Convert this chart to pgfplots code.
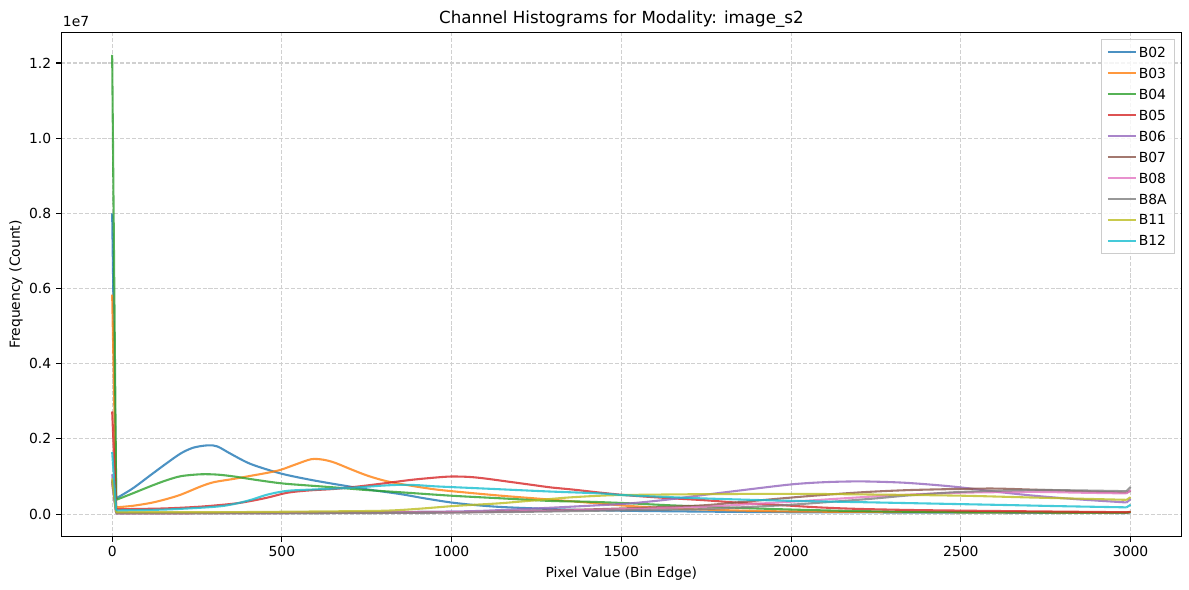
\documentclass[border=0pt]{standalone}
\usepackage{fontspec}
\setmainfont{DejaVu Sans}
\usepackage{pgfplots}
\pgfplotsset{compat=1.18}
\definecolor{cA}{HTML}{1F77B4}
\definecolor{cB}{HTML}{FF7F0E}
\definecolor{cC}{HTML}{2CA02C}
\definecolor{cD}{HTML}{D62728}
\definecolor{cE}{HTML}{9467BD}
\definecolor{cF}{HTML}{8C564B}
\definecolor{cG}{HTML}{E377C2}
\definecolor{cH}{HTML}{7F7F7F}
\definecolor{cI}{HTML}{BCBD22}
\definecolor{cJ}{HTML}{17BECF}
\definecolor{gridc}{HTML}{D0D0D0}
\pgfplotsset{
  ser/.style={color=#1, line width=1.5pt, draw opacity=0.8, line join=round},
}
\begin{document}
\begin{tikzpicture}
\path[use as bounding box] (0,0) rectangle (856.08pt,424.8pt);
\begin{axis}[
  at={(44.1pt,38.4pt)}, anchor=south west,
  scale only axis, width=806.6pt, height=363.2pt,
  xmin=-150, xmax=3150, ymin=-0.6, ymax=12.82,
  font=\fontsize{10}{12}\selectfont,
  /pgf/number format/assume math mode=true,
  axis line style={line width=0.8pt},
  tick align=outside,
  xtick pos=bottom, ytick pos=left,
  major tick length=3.5pt,
  major tick style={black, line width=0.8pt},
  xtick={0,500,1000,1500,2000,2500,3000},
  xticklabels={0,500,1000,1500,2000,2500,3000},
  ytick={0,2,4,6,8,10,12},
  yticklabels={0.0,0.2,0.4,0.6,0.8,1.0,1.2},
  xticklabel style={inner sep=0pt, anchor=north, yshift=-3.5pt},
  yticklabel style={inner sep=0pt, anchor=east, xshift=-3.5pt},
  grid=major,
  major grid style={gridc, line width=0.8pt, dash pattern=on 2.96pt off 1.28pt},
  xlabel={Pixel Value (Bin Edge)},
  xlabel style={at={(axis description cs:0.5,-0.0818)}, anchor=base},
  ylabel={Frequency (Count)},
  ylabel style={at={(axis description cs:-0.0404,0.5)}, anchor=center},
  legend cell align=left,
  legend image code/.code={\draw[#1] (0pt,0pt) -- (20pt,0pt);},
  legend style={at={(1,1)}, anchor=north east, xshift=-5pt, yshift=-5pt,
    draw=black!20, fill=white, fill opacity=0.8, text opacity=1,
    inner sep=4pt, row sep=4.8pt,
    nodes={inner sep=1.5pt, text height=7.3pt, text depth=0pt},
    font=\fontsize{10}{12}\selectfont},
  after end axis/.code={
    \draw[line width=0.8pt, black] (rel axis cs:0,0) rectangle (rel axis cs:1,1);
    \node[anchor=base west, inner sep=0pt, font=\fontsize{10}{12}\selectfont] at ([yshift=3.8pt,xshift=1pt]rel axis cs:0,1) {1e7};
    \node[anchor=base, inner sep=0pt, font=\fontsize{12}{14}\selectfont] at ([yshift=6pt]rel axis cs:0.5,1) {Channel Histograms for Modality: image\_s2};
  },
]
% B02
\addplot[ser=cA, forget plot] coordinates {(0,8.0)(12,0.42)};
\addplot[ser=cA, smooth] coordinates {(12,0.42)(60,0.68)(115,1.05)(160,1.35)(203,1.62)(240,1.77)(282,1.83)(310,1.80)(350,1.60)(409,1.33)(497,1.08)(580,0.92)(655,0.80)(750,0.66)(851,0.53)(920,0.42)(998,0.31)(1070,0.24)(1145,0.19)(1250,0.15)(1341,0.12)(1500,0.09)(1700,0.07)(2000,0.05)(2500,0.04)(2988,0.03)};
\addlegendentry{B02}
\addplot[ser=cA, forget plot] coordinates {(2988,0.03)(3000,0.05)};
% B03
\addplot[ser=cB, forget plot] coordinates {(0,5.84)(12,0.18)};
\addplot[ser=cB, smooth] coordinates {(12,0.18)(60,0.22)(115,0.30)(160,0.40)(203,0.52)(262,0.74)(300,0.85)(360,0.94)(409,1.02)(458,1.10)(497,1.18)(540,1.32)(586,1.46)(620,1.45)(655,1.37)(704,1.19)(753,1.02)(802,0.89)(851,0.80)(949,0.66)(1047,0.57)(1145,0.49)(1243,0.42)(1341,0.35)(1439,0.28)(1518,0.22)(1630,0.16)(1743,0.12)(2000,0.07)(2500,0.05)(2988,0.04)};
\addlegendentry{B03}
\addplot[ser=cB, forget plot] coordinates {(2988,0.04)(3000,0.06)};
% B04
\addplot[ser=cC, forget plot] coordinates {(0,12.22)(12,0.38)};
\addplot[ser=cC, smooth] coordinates {(12,0.38)(60,0.55)(115,0.75)(160,0.90)(203,1.01)(262,1.06)(311,1.05)(360,1.00)(409,0.93)(497,0.82)(580,0.76)(655,0.71)(750,0.64)(851,0.58)(998,0.49)(1145,0.42)(1292,0.35)(1400,0.33)(1518,0.29)(1630,0.24)(1743,0.20)(1968,0.13)(2200,0.08)(2500,0.05)(2988,0.04)};
\addlegendentry{B04}
\addplot[ser=cC, forget plot] coordinates {(2988,0.04)(3000,0.05)};
% B05
\addplot[ser=cD, forget plot] coordinates {(0,2.73)(12,0.13)};
\addplot[ser=cD, smooth] coordinates {(12,0.13)(150,0.15)(262,0.20)(360,0.28)(409,0.35)(458,0.44)(517,0.57)(580,0.63)(655,0.67)(730,0.74)(802,0.82)(880,0.91)(949,0.97)(998,1.00)(1050,0.99)(1096,0.95)(1170,0.86)(1243,0.77)(1292,0.71)(1360,0.65)(1439,0.57)(1518,0.50)(1630,0.43)(1743,0.37)(1850,0.30)(1968,0.24)(2080,0.18)(2193,0.14)(2350,0.11)(2530,0.09)(2750,0.07)(2988,0.05)};
\addlegendentry{B05}
\addplot[ser=cD, forget plot] coordinates {(2988,0.05)(3000,0.06)};
% B06
\addplot[ser=cE, forget plot] coordinates {(0,1.06)(12,0.03)};
\addplot[ser=cE, smooth] coordinates {(12,0.03)(500,0.04)(1000,0.07)(1150,0.11)(1292,0.17)(1400,0.22)(1518,0.28)(1630,0.38)(1734,0.50)(1850,0.63)(2000,0.79)(2100,0.85)(2205,0.87)(2323,0.84)(2418,0.78)(2500,0.71)(2600,0.60)(2715,0.49)(2850,0.39)(2988,0.31)};
\addlegendentry{B06}
\addplot[ser=cE, forget plot] coordinates {(2988,0.31)(3000,0.40)};
% B07
\addplot[ser=cF, forget plot] coordinates {(0,0.9)(12,0.02)};
\addplot[ser=cF, smooth] coordinates {(12,0.02)(500,0.03)(1000,0.05)(1292,0.10)(1500,0.15)(1734,0.23)(1850,0.32)(2000,0.44)(2110,0.52)(2225,0.59)(2350,0.64)(2500,0.67)(2600,0.68)(2715,0.65)(2850,0.61)(2988,0.57)};
\addlegendentry{B07}
\addplot[ser=cF, forget plot] coordinates {(2988,0.57)(3000,0.62)};
% B08
\addplot[ser=cG, forget plot] coordinates {(0,0.8)(12,0.02)};
\addplot[ser=cG, smooth] coordinates {(12,0.02)(500,0.03)(1000,0.05)(1292,0.09)(1500,0.13)(1734,0.19)(1850,0.25)(2000,0.33)(2225,0.46)(2350,0.52)(2500,0.57)(2715,0.59)(2850,0.57)(2988,0.55)};
\addlegendentry{B08}
\addplot[ser=cG, forget plot] coordinates {(2988,0.55)(3000,0.64)};
% B8A
\addplot[ser=cH, forget plot] coordinates {(0,0.85)(12,0.02)};
\addplot[ser=cH, smooth] coordinates {(12,0.02)(500,0.02)(1000,0.04)(1292,0.07)(1500,0.10)(1734,0.13)(1850,0.18)(2000,0.25)(2225,0.40)(2350,0.50)(2500,0.59)(2715,0.64)(2850,0.63)(2988,0.61)};
\addlegendentry{B8A}
\addplot[ser=cH, forget plot] coordinates {(2988,0.61)(3000,0.72)};
% B11
\addplot[ser=cI, forget plot] coordinates {(0,0.95)(12,0.05)};
\addplot[ser=cI, smooth] coordinates {(12,0.05)(300,0.05)(600,0.07)(800,0.09)(900,0.14)(998,0.21)(1070,0.25)(1145,0.29)(1250,0.37)(1341,0.44)(1439,0.49)(1518,0.51)(1734,0.53)(2000,0.54)(2250,0.52)(2500,0.49)(2715,0.44)(2988,0.38)};
\addlegendentry{B11}
\addplot[ser=cI, forget plot] coordinates {(2988,0.38)(3000,0.45)};
% B12
\addplot[ser=cJ, forget plot] coordinates {(0,1.65)(12,0.10)};
\addplot[ser=cJ, smooth] coordinates {(12,0.10)(150,0.12)(262,0.17)(320,0.21)(360,0.27)(409,0.38)(458,0.52)(517,0.62)(606,0.66)(680,0.69)(753,0.73)(800,0.76)(851,0.78)(900,0.77)(949,0.74)(1047,0.70)(1145,0.66)(1292,0.60)(1439,0.55)(1518,0.50)(1734,0.42)(1968,0.36)(2193,0.32)(2418,0.28)(2643,0.24)(2800,0.21)(2988,0.18)};
\addlegendentry{B12}
\addplot[ser=cJ, forget plot] coordinates {(2988,0.18)(3000,0.25)};
\end{axis}
\end{tikzpicture}
\end{document}
